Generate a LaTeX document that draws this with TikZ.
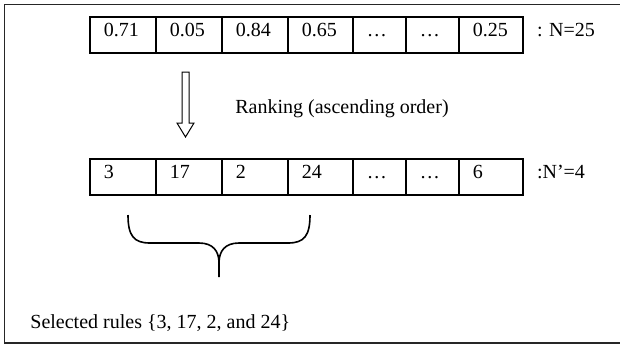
\documentclass[tikz,border=0pt]{standalone}
\usepackage{fontspec}
\setmainfont{Liberation Serif}
\usetikzlibrary{positioning}

\begin{document}
\begin{tikzpicture}[x=0.5pt, y=-0.5pt,
  txt/.style={font=\fontsize{10}{12}\selectfont},
  cell/.style={txt, draw, line width=0.8pt, anchor=north west, align=left,
               inner xsep=7pt, inner ysep=0pt, text height=10pt, text depth=8pt},
  lbl/.style={txt, inner sep=0pt, anchor=base west}]
\useasboundingbox (0,0) rectangle (620,345);
\draw[line width=0.7pt, black!85] (4.5,4.5) rectangle (626,343);
% scores of the N rules
\foreach \x/\w/\v [count=\i] in {89/19/0.71, 155/19/0.05, 221/19/0.84, 287/18.5/0.65,
    352/12.5/…, 405/12.5/…, 458/18/0.25}
  \node[cell, text width=\w pt] (t\i) at (\x,16) {\v};
\node[lbl, right=6.5pt of t7.base east, anchor=base west] (n) {: N=25};
% ranked rule indices
\foreach \x/\w/\v [count=\i] in {89/19/3, 155/19/17, 221/19/2, 287/18.5/24,
    352/12.5/…, 405/12.5/…, 458/18/6}
  \node[cell, text width=\w pt] (b\i) at (\x,158) {\v};
\node[lbl, right=6.5pt of b7.base east, anchor=base west] (np) {:N’=4};
% hollow arrow
\draw[line width=0.5pt] (182,72) -- (182,123) -- (177,123) -- (185.5,137)
  -- (194,123) -- (189,123) -- (189,72) -- cycle;
\node[lbl] (rank) at (235,113) {Ranking (ascending order)};
% brace under the first four
\draw[line width=0.8pt] (128,215) .. controls (128,236) and (134,243) .. (150,243)
  -- (199,243) .. controls (213,243) and (219,251) .. (219,263) -- (219,277);
\draw[line width=0.8pt] (310,215) .. controls (310,236) and (304,243) .. (288,243)
  -- (239,243) .. controls (225,243) and (219,251) .. (219,263);
\node[lbl] (sel) at (30,328) {Selected rules \{3, 17, 2, and 24\}};
\end{tikzpicture}
\end{document}
